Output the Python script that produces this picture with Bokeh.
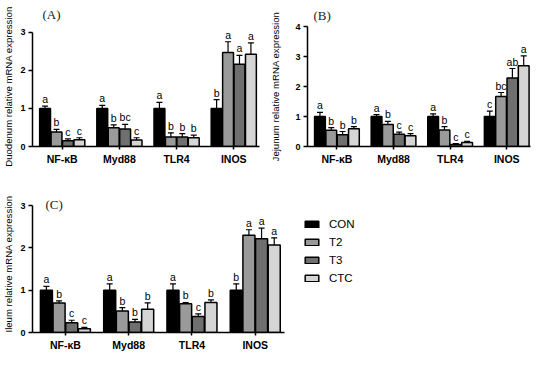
from bokeh.plotting import figure
from bokeh.models import (ColumnDataSource, FixedTicker, Whisker, TeeHead, Label,
                          Legend, LegendItem, Range1d)
from bokeh.layouts import column, row
from bokeh.embed import file_html
from bokeh.resources import INLINE
from bokeh.core.properties import value

# ---------------- data ----------------
groups = ["NF-\u03baB", "Myd88", "TLR4", "INOS"]
series = ["CON", "T2", "T3", "CTC"]

# Duodenum (A)
duo_mean = {"CON": [1.00, 1.00, 1.00, 1.00],
            "T2":  [0.38, 0.49, 0.25, 2.47],
            "T3":  [0.15, 0.46, 0.25, 2.16],
            "CTC": [0.18, 0.17, 0.23, 2.42]}
duo_err = {"CON": [0.06, 0.08, 0.16, 0.23],
           "T2":  [0.07, 0.08, 0.11, 0.28],
           "T3":  [0.05, 0.12, 0.09, 0.23],
           "CTC": [0.05, 0.06, 0.07, 0.30]}
duo_let = {"CON": ["a", "a", "a", "b"],
           "T2":  ["b", "b", "b", "a"],
           "T3":  ["c", "bc", "b", "a"],
           "CTC": ["c", "c", "b", "a"]}

# Jejunum (B)
jej_mean = {"CON": [1.00, 1.00, 1.00, 1.00],
            "T2":  [0.54, 0.73, 0.55, 1.67],
            "T3":  [0.39, 0.41, 0.07, 2.28],
            "CTC": [0.59, 0.36, 0.13, 2.69]}
jej_err = {"CON": [0.14, 0.06, 0.09, 0.18],
           "T2":  [0.09, 0.11, 0.11, 0.13],
           "T3":  [0.11, 0.07, 0.03, 0.32],
           "CTC": [0.07, 0.07, 0.04, 0.33]}
jej_let = {"CON": ["a", "a", "a", "c"],
           "T2":  ["b", "b", "b", "bc"],
           "T3":  ["b", "c", "c", "ab"],
           "CTC": ["b", "c", "c", "a"]}

# Ileum (C)
ile_mean = {"CON": [1.00, 1.00, 1.00, 1.00],
            "T2":  [0.70, 0.51, 0.68, 2.30],
            "T3":  [0.23, 0.25, 0.38, 2.22],
            "CTC": [0.09, 0.55, 0.71, 2.07]}
ile_err = {"CON": [0.09, 0.15, 0.15, 0.15],
           "T2":  [0.05, 0.08, 0.03, 0.13],
           "T3":  [0.06, 0.06, 0.06, 0.25],
           "CTC": [0.03, 0.15, 0.06, 0.17]}
ile_let = {"CON": ["a", "a", "a", "b"],
           "T2":  ["b", "b", "b", "a"],
           "T3":  ["c", "b", "c", "a"],
           "CTC": ["c", "b", "b", "a"]}

# ---------------- style ----------------
colors = ["#000000", "#9a9a9a", "#6f6f6f", "#d5d5d5"]
offsets = [-0.3, -0.1, 0.1, 0.3]
BAR_W = 0.19
SANS = "Liberation Sans"
SERIF = "Liberation Serif"


def panel(mean, err, letters, ylabel, ymax, yend, xr, xaxis_end, size, borders,
          ylab_standoff):
    w, h = size
    bl, br, bt, bb = borders
    p = figure(width=w, height=h, x_range=Range1d(*xr), y_range=Range1d(0, yend),
               output_backend="svg", toolbar_location=None,
               min_border_left=bl, min_border_right=br,
               min_border_top=bt, min_border_bottom=bb)
    p.outline_line_color = None
    p.grid.visible = False
    p.background_fill_color = "white"
    p.border_fill_color = "white"

    bars = []
    for i, s in enumerate(series):
        xs = [g + offsets[i] for g in range(len(groups))]
        up = [m + e for m, e in zip(mean[s], err[s])]
        src = ColumnDataSource(dict(x=xs, top=mean[s], up=up, lab=letters[s]))
        p.add_layout(Whisker(source=src, base="x", upper="up", lower="top",
                             dimension="height", line_width=1.2, line_color="black",
                             upper_head=TeeHead(size=6, line_width=1.2, line_color="black"),
                             lower_head=None))
        r = p.vbar(x="x", top="top", width=BAR_W, source=src, fill_color=colors[i],
                   line_color="black", line_width=1.5)
        bars.append(r)
        p.text(x="x", y="up", text="lab", source=src, text_align="center",
               text_baseline="bottom", y_offset=-1, text_font_size="10.5px",
               text_font=value(SANS), text_color="black")

    xa = p.xaxis[0]
    xa.ticker = FixedTicker(ticks=list(range(len(groups))))
    xa.major_label_overrides = {i: g for i, g in enumerate(groups)}
    xa.bounds = (xr[0], xaxis_end)
    xa.minor_tick_line_color = None
    xa.major_tick_out = 3
    xa.major_tick_in = 0
    xa.axis_line_width = 1.5
    xa.major_tick_line_width = 1.5
    xa.major_label_text_font = SANS
    xa.major_label_text_font_style = "bold"
    xa.major_label_text_font_size = "10.5px"
    xa.major_label_text_color = "black"
    xa.major_label_standoff = 3

    ya = p.yaxis[0]
    ya.ticker = FixedTicker(ticks=list(range(ymax + 1)))
    ya.bounds = (0, ymax)
    ya.minor_tick_line_color = None
    ya.major_tick_out = 4
    ya.major_tick_in = 0
    ya.axis_line_width = 1.5
    ya.major_tick_line_width = 1.5
    ya.major_label_text_font = SANS
    ya.major_label_text_font_style = "bold"
    ya.major_label_text_font_size = "9px"
    ya.major_label_text_color = "black"
    ya.major_label_standoff = 3
    ya.axis_label = ylabel
    ya.axis_label_text_font = SANS
    ya.axis_label_text_font_style = "normal"
    ya.axis_label_text_font_size = "9.6px"
    ya.axis_label_text_color = "black"
    ya.axis_label_standoff = ylab_standoff
    return p, bars


def set_title(p, tag, offset, standoff):
    p.title.text = tag
    p.title.align = "left"
    p.title.offset = offset
    p.title.standoff = standoff
    p.title.text_font = SERIF
    p.title.text_font_size = "13px"
    p.title.text_font_style = "normal"
    p.title.text_color = "#222222"


pA, _ = panel(duo_mean, duo_err, duo_let, "Duodenum relative mRNA expression",
              3, 3.15, (-0.52, 3.45), 3.45, (267, 177), (27, 8, 19, 29), 3)
set_title(pA, "(A)", 10, 9)
pB, _ = panel(jej_mean, jej_err, jej_let, "Jejunum relative mRNA expression",
              4, 4.0, (-0.52, 3.42), 3.42, (267, 177), (37, 4, 21, 31), 11)
set_title(pB, "(B)", 6, 7)
pC, barsC = panel(ile_mean, ile_err, ile_let, "Ileum relative mRNA expression",
                  3, 3.24, (-0.52, 7.35), 3.47, (534, 176), (27, 4, 18, 21), 3)
pC.add_layout(Label(x=pC.x_range.start, y=3, x_offset=13, y_offset=1, text="(C)",
                    text_font=SERIF, text_font_size="13px", text_baseline="middle",
                    text_align="left", text_color="#222222"))

leg = Legend(items=[LegendItem(label=s, renderers=[r]) for s, r in zip(series, barsC)],
             location=(271, 47), glyph_width=17, glyph_height=8,
             label_height=14, spacing=4, label_standoff=9, padding=0, margin=0,
             border_line_color=None, background_fill_alpha=0,
             label_text_font=SANS, label_text_font_size="11.5px",
             label_text_color="black")
pC.add_layout(leg)

layout = column(row(pA, pB), pC)
open("out.html", "w").write(file_html(layout, INLINE))
